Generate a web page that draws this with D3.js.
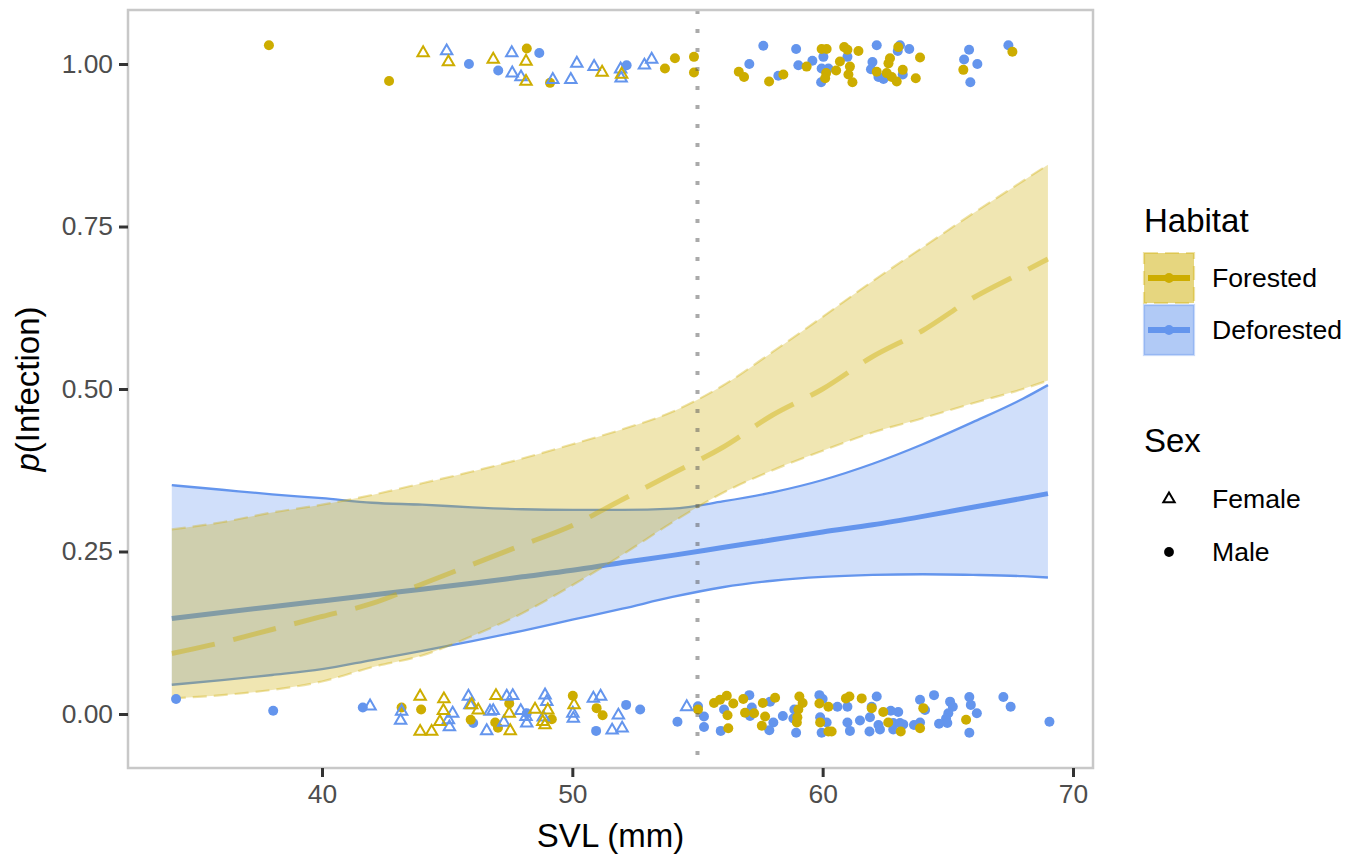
<!DOCTYPE html>
<html>
<head>
<meta charset="utf-8">
<script src="https://cdn.jsdelivr.net/npm/d3@7"></script>
<style>
  body { margin: 0; background: #fff; }
  text { font-family: "Liberation Sans", Arial, sans-serif; }
</style>
</head>
<body>
<div id="chart"></div>
<script>
// fitted curves
const svlGrid  = [34, 36, 38, 40, 42, 44, 46, 48, 50, 52, 54, 56, 58, 60, 62, 64, 66, 68, 69];
const forMean  = [0.093, 0.11, 0.13, 0.15, 0.17, 0.20, 0.23, 0.26, 0.29, 0.33, 0.37, 0.41, 0.46, 0.50, 0.55, 0.59, 0.64, 0.68, 0.70];
const forHigh  = [0.284, 0.295, 0.31, 0.322, 0.337, 0.355, 0.373, 0.393, 0.415, 0.438, 0.465, 0.505, 0.557, 0.611, 0.666, 0.718, 0.77, 0.82, 0.845];
const forLow   = [0.024, 0.029, 0.037, 0.05, 0.072, 0.09, 0.12, 0.155, 0.198, 0.245, 0.295, 0.34, 0.375, 0.405, 0.433, 0.455, 0.478, 0.50, 0.513];
const defMean  = [0.147, 0.156, 0.165, 0.174, 0.183, 0.192, 0.201, 0.211, 0.221, 0.233, 0.244, 0.256, 0.268, 0.280, 0.291, 0.304, 0.318, 0.332, 0.339];
const defHigh  = [0.352, 0.345, 0.338, 0.332, 0.325, 0.322, 0.318, 0.315, 0.314, 0.314, 0.316, 0.327, 0.341, 0.36, 0.385, 0.415, 0.449, 0.485, 0.506];
const defLow   = [0.045, 0.052, 0.060, 0.069, 0.083, 0.097, 0.112, 0.128, 0.145, 0.162, 0.180, 0.195, 0.205, 0.211, 0.214, 0.215, 0.214, 0.212, 0.210];

// observations [SVL, jittered infection status]
const infForMale = [[37.88,1.029],[42.68,0.974],[48.18,1.024],[49.11,0.971],[53.70,0.993],[54.10,1.009],[54.86,1.011],[54.86,0.987],
  [56.65,0.988],[56.86,0.980],[57.86,0.973],[58.43,0.984],[59.36,0.996],[59.96,1.023],[60.16,1.023],[60.14,0.986],[60.10,0.978],
  [60.54,0.990],[60.69,1.004],[60.86,1.026],[60.99,1.022],[61.09,0.996],[61.03,0.984],[61.19,0.972],[61.43,1.020],[62.16,0.988],
  [62.63,1.001],[62.69,1.009],[62.56,0.986],[62.76,0.980],[62.96,0.973],[63.02,1.026],[63.20,0.991],[63.72,0.978],[63.89,1.010],
  [65.62,0.991],[67.58,1.019]];
const infForFemale = [[44.04,1.017],[45.05,1.003],[46.84,1.007],[48.15,1.004],[48.15,0.973],[51.19,0.987],[51.97,0.984]];
const infDefMale = [[45.87,1.000],[48.68,1.017],[47.04,0.990],[52.17,0.998],[57.63,1.028],[57.07,1.000],[58.23,0.982],[58.94,1.023],
  [59.03,0.998],[59.59,1.005],[60.03,1.011],[59.96,0.993],[60.23,0.993],[59.94,0.972],[60.99,1.011],[62.16,1.029],[61.99,1.003],
  [61.93,0.992],[62.23,0.980],[62.43,0.977],[63.00,1.020],[63.09,1.029],[63.46,1.023],[63.20,0.984],[65.85,1.022],[65.65,1.007],
  [66.18,1.000],[65.90,0.972],[67.42,1.029]];
const infDefFemale = [[44.98,1.020],[47.58,1.017],[47.60,0.986],[47.95,0.980],[49.22,0.976],[49.94,0.976],[50.18,1.001],[50.87,0.996],
  [51.93,0.992],[51.95,0.978],[52.88,0.998],[53.17,1.007]];

const unForMale = [[43.18,0.010],[43.96,0.007],[45.94,-0.009],[47.48,0.016],[46.92,-0.013],[47.03,-0.021],[49.18,-0.008],[50.02,0.028],
  [50.97,0.009],[51.21,-0.002],[55.02,0.007],[55.66,0.017],[55.90,0.022],[56.17,0.028],[56.20,-0.002],[56.23,-0.022],[56.43,0.016],
  [56.83,0.023],[56.90,0.002],[57.26,0.001],[57.61,0.017],[57.70,-0.004],[57.57,-0.018],[58.10,0.025],[59.07,0.027],[59.20,0.017],
  [59.03,0.007],[58.99,-0.005],[58.97,-0.013],[59.87,0.016],[60.23,0.011],[59.90,-0.013],[60.23,-0.027],[60.36,-0.027],[60.93,0.024],
  [61.07,0.027],[61.56,0.024],[61.96,0.009],[62.42,0.003],[62.62,-0.013],[63.12,-0.027],[64.02,0.009],[63.89,-0.022],[65.73,-0.009]];
const unForFemale = [[43.92,0.027],[43.92,-0.027],[44.38,-0.027],[44.87,0.023],[44.85,0.005],[44.71,-0.012],[45.98,0.014],[46.24,0.006],
  [46.95,0.028],[47.48,0.001],[47.52,-0.026],[48.51,0.007],[49.02,0.006],[48.82,-0.012],[48.91,-0.017],[50.07,0.014]];
const unDefMale = [[34.17,0.023],[38.05,0.005],[41.63,0.010],[46.04,-0.014],[48.18,0.001],[52.15,0.014],[52.71,0.007],[50.95,-0.026],
  [54.20,-0.012],[55.02,0.012],[55.26,-0.004],[55.26,-0.020],[56.06,0.007],[55.93,-0.026],[57.07,0.029],[57.17,0.010],[57.10,-0.003],
  [57.90,0.019],[58.03,-0.013],[58.41,-0.003],[57.87,-0.025],[58.87,0.007],[58.83,-0.007],[58.94,-0.029],[59.87,0.029],[60.00,0.023],
  [60.59,0.011],[59.90,-0.005],[60.16,-0.013],[59.96,-0.029],[60.99,0.011],[60.99,-0.013],[61.09,-0.026],[61.49,-0.010],[61.96,0.011],
  [62.16,0.027],[61.89,-0.005],[61.87,-0.027],[62.23,-0.017],[62.29,-0.024],[62.72,0.005],[63.02,0.003],[62.82,-0.014],[63.09,-0.014],
  [63.22,-0.016],[62.82,-0.024],[63.89,0.022],[64.09,0.006],[63.65,-0.017],[63.89,-0.013],[64.45,0.029],[65.09,0.019],[65.20,0.011],
  [65.02,0.001],[64.93,-0.007],[64.98,-0.014],[64.65,-0.015],[65.86,0.026],[65.92,0.014],[66.16,0.001],[65.86,-0.029],[67.22,0.026],
  [67.51,0.011],[69.06,-0.012]];
const unDefFemale = [[41.92,0.012],[43.18,0.004],[43.14,-0.010],[45.22,0.001],[45.05,-0.009],[45.09,-0.020],[45.85,0.027],[45.91,0.014],
  [46.71,0.004],[46.58,-0.026],[47.38,0.027],[47.62,0.028],[46.84,0.005],[47.26,-0.013],[47.94,0.005],[48.15,-0.004],[48.18,-0.014],
  [48.91,0.029],[48.98,0.019],[48.84,-0.005],[50.02,0.001],[50.04,-0.007],[50.84,0.024],[51.13,0.027],[51.84,-0.002],[51.59,-0.025],
  [51.99,-0.022],[54.57,0.011]];

const xTicks = [40, 50, 60, 70];
const yTicks = [0, 0.25, 0.5, 0.75, 1];
const cutoff = 55;
const habitats = ["Forested", "Deforested"];
const sexes = ["Female", "Male"];

const gold = "#CDAD00", blue = "#6495ED";

const width = 1359, height = 854;
const panel = {left: 128, right: 1093, top: 10, bottom: 768};

const svg = d3.select("#chart").append("svg")
  .attr("width", width).attr("height", height);

const x = d3.scaleLinear().domain([32.25, 70.8]).range([panel.left, panel.right]);
const y = d3.scaleLinear().domain([-0.0831, 1.0831]).range([panel.bottom, panel.top]);

const band = (lo, hi) => d3.area()
  .x((d, i) => x(svlGrid[i]))
  .y0((d, i) => y(lo[i]))
  .y1((d, i) => y(hi[i]))
  .curve(d3.curveMonotoneX);
const line = vals => d3.line()
  .x((d, i) => x(svlGrid[i]))
  .y((d, i) => y(vals[i]))
  .curve(d3.curveMonotoneX)(vals);

const plot = svg.append("g");

// deforested ribbon
plot.append("path").attr("d", band(defLow, defHigh)(svlGrid))
  .attr("fill", blue).attr("fill-opacity", 0.3);
[defLow, defHigh].forEach(v => plot.append("path").attr("d", line(v))
  .attr("fill", "none").attr("stroke", blue).attr("stroke-width", 2.3));
plot.append("path").attr("d", line(defMean))
  .attr("fill", "none").attr("stroke", blue).attr("stroke-width", 5);

// forested ribbon
plot.append("path").attr("d", band(forLow, forHigh)(svlGrid))
  .attr("fill", gold).attr("fill-opacity", 0.3);
[forLow, forHigh].forEach(v => plot.append("path").attr("d", line(v))
  .attr("fill", "none").attr("stroke", gold).attr("stroke-opacity", 0.35)
  .attr("stroke-width", 2.2).attr("stroke-dasharray", "14,7"));
plot.append("path").attr("d", line(forMean))
  .attr("fill", "none").attr("stroke", gold).attr("stroke-opacity", 0.42)
  .attr("stroke-width", 5).attr("stroke-dasharray", "44,19");

// points
const tri = "M0,-6.6L5.7,3.3L-5.7,3.3Z";
const drawCircles = (data, col) => plot.append("g").selectAll("circle")
  .data(data).enter().append("circle")
  .attr("cx", d => x(d[0])).attr("cy", d => y(d[1]))
  .attr("r", 5).attr("fill", col);
const drawTriangles = (data, col) => plot.append("g").selectAll("path")
  .data(data).enter().append("path")
  .attr("d", tri)
  .attr("transform", d => `translate(${x(d[0])},${y(d[1])})`)
  .attr("fill", "none").attr("stroke", col).attr("stroke-width", 2);

drawCircles(unDefMale, blue);
drawCircles(unForMale, gold);
drawCircles(infDefMale, blue);
drawCircles(infForMale, gold);
drawTriangles(unDefFemale, blue);
drawTriangles(unForFemale, gold);
drawTriangles(infDefFemale, blue);
drawTriangles(infForFemale, gold);

// cutoff line
plot.append("line")
  .attr("x1", x(cutoff)).attr("x2", x(cutoff))
  .attr("y1", panel.top).attr("y2", panel.bottom)
  .attr("stroke", "#555").attr("stroke-opacity", 0.5)
  .attr("stroke-width", 4).attr("stroke-dasharray", "4,15");

// panel border
svg.append("rect")
  .attr("x", panel.left).attr("y", panel.top)
  .attr("width", panel.right - panel.left).attr("height", panel.bottom - panel.top)
  .attr("fill", "none").attr("stroke", "#c8c8c8").attr("stroke-width", 2.5);

// axes
const gX = svg.append("g")
  .attr("transform", `translate(0,${panel.bottom})`)
  .call(d3.axisBottom(x).tickValues(xTicks).tickSize(9).tickPadding(7));
const gY = svg.append("g")
  .attr("transform", `translate(${panel.left},0)`)
  .call(d3.axisLeft(y).tickValues(yTicks).tickFormat(d3.format(".2f")).tickSize(9).tickPadding(6));
[gX, gY].forEach(g => {
  g.select(".domain").remove();
  g.selectAll(".tick line").attr("stroke", "#333").attr("stroke-width", 3);
  g.selectAll(".tick text").attr("fill", "#4d4d4d")
    .style("font-size", "26.4px").style("font-family", "Liberation Sans, Arial, sans-serif");
});

svg.append("text")
  .attr("x", (panel.left + panel.right) / 2).attr("y", 847)
  .attr("text-anchor", "middle").style("font-size", "33px")
  .text("SVL (mm)");

const yTitle = svg.append("text")
  .attr("transform", `translate(39,${(panel.top + panel.bottom) / 2}) rotate(-90)`)
  .attr("text-anchor", "middle").style("font-size", "33px");
yTitle.append("tspan").style("font-style", "italic").text("p");
yTitle.append("tspan").text("(Infection)");

// legend
const leg = svg.append("g").attr("transform", "translate(1144,0)");
leg.append("text").attr("x", 0).attr("y", 232).style("font-size", "33px").text("Habitat");
habitats.forEach((h, i) => {
  const col = i === 0 ? gold : blue;
  const top = 253 + i * 52;
  leg.append("rect").attr("x", 0).attr("y", top).attr("width", 50).attr("height", 50)
    .attr("fill", col).attr("fill-opacity", 0.5)
    .attr("stroke", col).attr("stroke-opacity", 0.35).attr("stroke-width", 2.2)
    .attr("stroke-dasharray", i === 0 ? "14,7" : null);
  leg.append("line").attr("x1", 4).attr("x2", 46).attr("y1", top + 25).attr("y2", top + 25)
    .attr("stroke", col).attr("stroke-width", 6);
  leg.append("circle").attr("cx", 25).attr("cy", top + 25).attr("r", 4.9).attr("fill", col);
  leg.append("text").attr("x", 68).attr("y", top + 25).attr("dy", "0.35em")
    .style("font-size", "26.6px").text(h);
});

leg.append("text").attr("x", 0).attr("y", 452).style("font-size", "33px").text("Sex");
sexes.forEach((s, i) => {
  const cy = 499 + i * 53;
  if (s === "Female") {
    leg.append("path").attr("d", tri).attr("transform", `translate(25,${cy})`)
      .attr("fill", "none").attr("stroke", "#000").attr("stroke-width", 2);
  } else {
    leg.append("circle").attr("cx", 25).attr("cy", cy).attr("r", 4.9).attr("fill", "#000");
  }
  leg.append("text").attr("x", 68).attr("y", cy).attr("dy", "0.35em")
    .style("font-size", "26.6px").text(s);
});
</script>
</body>
</html>
